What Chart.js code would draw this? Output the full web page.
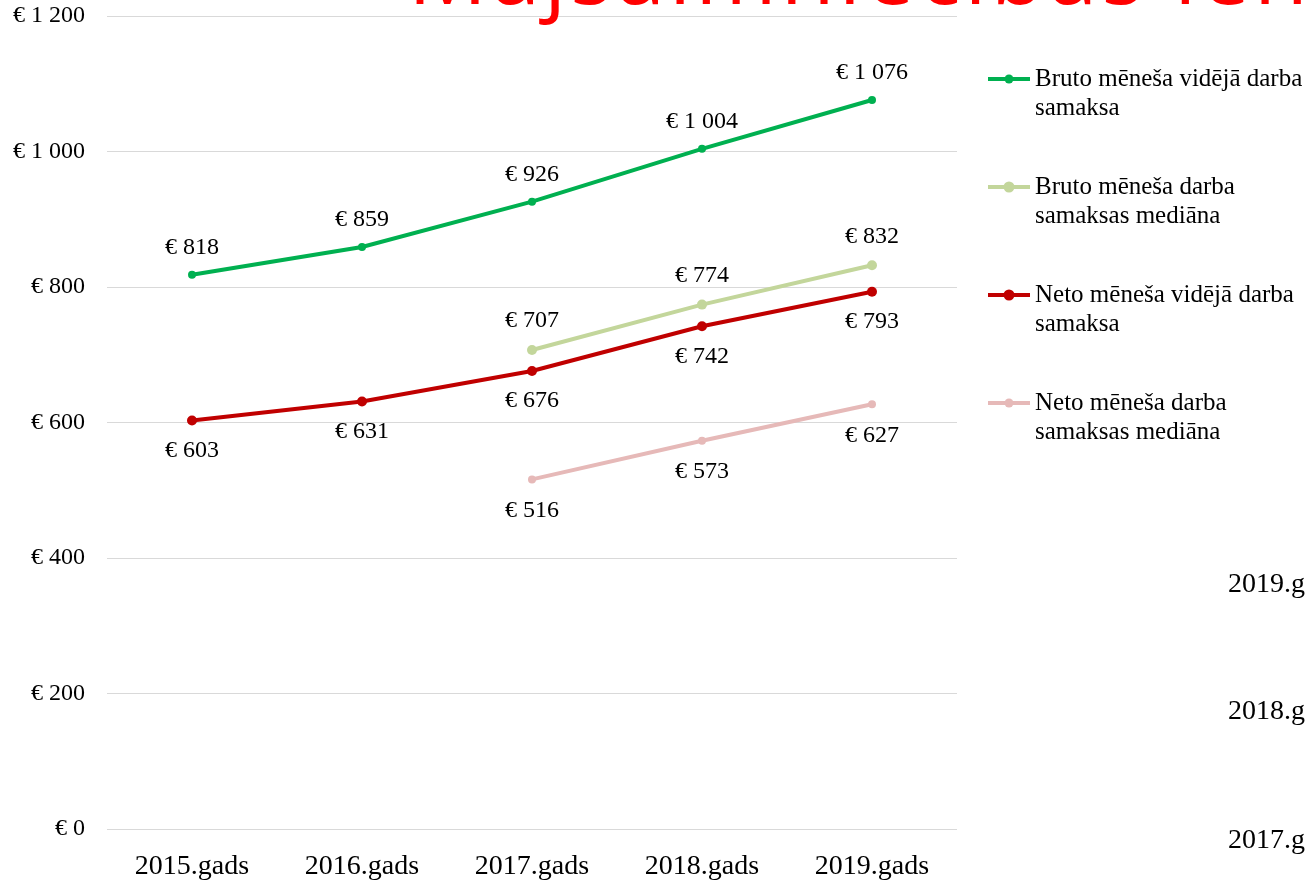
<!DOCTYPE html>
<html>
<head>
<meta charset="utf-8">
<script src="https://cdn.jsdelivr.net/npm/chart.js@4.4.0/dist/chart.umd.min.js"></script>
<style>
  html, body { margin: 0; padding: 0; background: #fff; overflow: hidden; }
  #wrap { position: relative; width: 1306px; height: 882px; }
  #title {
    position: absolute; left: 408px; top: -74px;
    font-family: "Open Sans", sans-serif; font-size: 88px; line-height: 88px;
    letter-spacing: 4px;
    color: #ff0000; white-space: nowrap;
  }
  .stray {
    position: absolute; left: 1228px;
    font-family: "Liberation Serif", serif; font-size: 28px; line-height: 28px;
    color: #000; white-space: nowrap;
  }
</style>
</head>
<body>
<div id="wrap">
  <canvas id="chart" width="1306" height="882"></canvas>
  <div id="title">Mājsaimniecības ienākumi</div>
  <div class="stray" style="top:569px">2019.g</div>
  <div class="stray" style="top:696px">2018.g</div>
  <div class="stray" style="top:825px">2017.g</div>
</div>
<script>
const years = ['2015.gads', '2016.gads', '2017.gads', '2018.gads', '2019.gads'];
const brutoAvg = [818, 859, 926, 1004, 1076];
const brutoMedian = [null, null, 707, 774, 832];
const netoAvg = [603, 631, 676, 742, 793];
const netoMedian = [null, null, 516, 573, 627];
const seriesNames = [
  ['Bruto mēneša vidējā darba', 'samaksa'],
  ['Bruto mēneša darba', 'samaksas mediāna'],
  ['Neto mēneša vidējā darba', 'samaksa'],
  ['Neto mēneša darba', 'samaksas mediāna']
];
const yTicks = [0, 200, 400, 600, 800, 1000, 1200];

const serif = '"Liberation Serif", "Times New Roman", serif';

function euro(v) {
  return '€ ' + String(v).replace(/\B(?=(\d{3})+(?!\d))/g, ' ');
}

// where each series puts its value labels (above / below the point)
const labelShift = [-27, -29, 30, 31];

const valueLabels = {
  id: 'valueLabels',
  afterDatasetsDraw(chart) {
    const ctx = chart.ctx;
    ctx.save();
    ctx.font = '24px ' + serif;
    ctx.fillStyle = '#000';
    ctx.textAlign = 'center';
    ctx.textBaseline = 'middle';
    chart.data.datasets.forEach((ds, i) => {
      chart.getDatasetMeta(i).data.forEach((pt, j) => {
        const v = ds.data[j];
        if (v == null) return;
        ctx.fillText(euro(v), pt.x, pt.y + labelShift[i]);
      });
    });
    ctx.restore();
  }
};

const sideLegend = {
  id: 'sideLegend',
  afterDraw(chart) {
    const ctx = chart.ctx;
    const x0 = chart.chartArea.right + 31;
    ctx.save();
    ctx.font = '25px ' + serif;
    ctx.textBaseline = 'middle';
    ctx.textAlign = 'left';
    chart.data.datasets.forEach((ds, i) => {
      const y = 79 + i * 108;
      ctx.strokeStyle = ds.borderColor;
      ctx.lineWidth = 4;
      ctx.beginPath();
      ctx.moveTo(x0, y);
      ctx.lineTo(x0 + 42, y);
      ctx.stroke();
      ctx.fillStyle = ds.borderColor;
      ctx.beginPath();
      ctx.arc(x0 + 21, y, ds.pointRadius + 0.5, 0, Math.PI * 2);
      ctx.fill();
      ctx.fillStyle = '#000';
      seriesNames[i].forEach((line, k) => {
        ctx.fillText(line, x0 + 47, y + k * 29);
      });
    });
    ctx.restore();
  }
};

function makeSeries(idx, data, color, r) {
  return {
    label: seriesNames[idx].join(' '),
    data: data,
    borderColor: color,
    backgroundColor: color,
    borderWidth: 4,
    pointRadius: r,
    pointHoverRadius: r,
    pointBorderWidth: 0,
    tension: 0,
    spanGaps: false
  };
}

new Chart(document.getElementById('chart'), {
  type: 'line',
  data: {
    labels: years,
    datasets: [
      makeSeries(0, brutoAvg, '#00b050', 4),
      makeSeries(1, brutoMedian, '#c3d69b', 5),
      makeSeries(2, netoAvg, '#c00000', 5),
      makeSeries(3, netoMedian, '#e6b9b8', 4)
    ]
  },
  options: {
    responsive: false,
    animation: false,
    layout: { padding: { top: 16, right: 349, left: 0, bottom: 0 } },
    plugins: { legend: { display: false }, tooltip: { enabled: false } },
    scales: {
      x: {
        offset: true,
        grid: { display: false },
        border: { display: false },
        ticks: { color: '#000', font: { family: serif, size: 28 }, padding: 13 },
        afterFit: (s) => { s.height = 53; s.paddingLeft = 0; s.paddingRight = 0; }
      },
      y: {
        min: 0,
        max: 1200,
        afterBuildTicks: (s) => { s.ticks = yTicks.map(v => ({ value: v })); },
        grid: { color: '#d9d9d9', lineWidth: 1, drawTicks: false },
        border: { display: false },
        ticks: {
          color: '#000',
          font: { family: serif, size: 24 },
          padding: 22,
          callback: (v) => euro(v)
        },
        afterFit: (s) => { s.width = 107; s.paddingTop = 0; s.paddingBottom = 0; }
      }
    }
  },
  plugins: [valueLabels, sideLegend]
});
</script>
</body>
</html>
